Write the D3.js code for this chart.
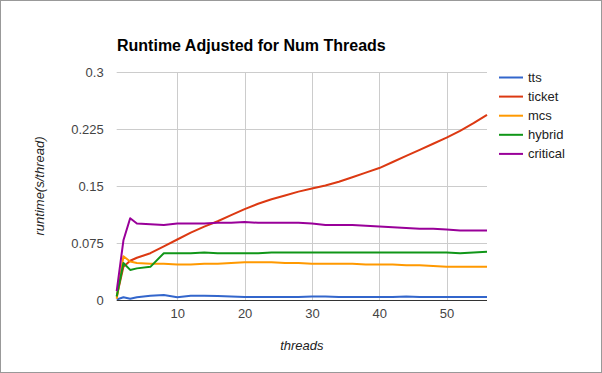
<!DOCTYPE html>
<html>
<head>
<meta charset="utf-8">
<script src="https://cdn.jsdelivr.net/npm/d3@7"></script>
<style>
  body { margin: 0; background: #fff; }
  svg { display: block; font-family: Arial, "Liberation Sans", sans-serif; }
</style>
</head>
<body>
<div id="chart"></div>
<script>
// thread counts sampled
const threads = [1, 2, 3, 4, 6, 8, 10, 12, 14, 16, 18, 20, 22, 24, 26, 28, 30,
    32, 34, 36, 38, 40, 42, 44, 46, 48, 50, 52, 54, 56];

const tts = [0.001, 0.004, 0.002, 0.004, 0.006, 0.007, 0.004, 0.006, 0.006, 0.0055,
    0.005, 0.0045, 0.0045, 0.0045, 0.0045, 0.0045, 0.005, 0.005, 0.0045, 0.0045,
    0.0045, 0.0045, 0.0045, 0.005, 0.0045, 0.0045, 0.0045, 0.0045, 0.0045, 0.0045];
const ticket = [0.005, 0.044, 0.052, 0.056, 0.062, 0.071, 0.080, 0.089, 0.097, 0.104,
    0.112, 0.120, 0.127, 0.133, 0.138, 0.143, 0.147, 0.151, 0.156, 0.162,
    0.168, 0.174, 0.182, 0.190, 0.198, 0.206, 0.214, 0.223, 0.233, 0.244];
const mcs = [0.002, 0.058, 0.051, 0.049, 0.048, 0.048, 0.047, 0.047, 0.048, 0.048,
    0.049, 0.050, 0.050, 0.050, 0.049, 0.049, 0.048, 0.048, 0.048, 0.048,
    0.047, 0.047, 0.047, 0.046, 0.046, 0.045, 0.044, 0.044, 0.044, 0.044];
const hybrid = [0.005, 0.049, 0.040, 0.042, 0.044, 0.062, 0.062, 0.062, 0.063, 0.062,
    0.062, 0.062, 0.062, 0.063, 0.063, 0.063, 0.063, 0.063, 0.063, 0.063,
    0.063, 0.063, 0.063, 0.063, 0.063, 0.063, 0.063, 0.062, 0.063, 0.064];
const critical = [0.012, 0.079, 0.108, 0.101, 0.100, 0.099, 0.101, 0.101, 0.101, 0.102,
    0.102, 0.103, 0.102, 0.102, 0.102, 0.102, 0.101, 0.099, 0.099, 0.099,
    0.098, 0.097, 0.096, 0.095, 0.094, 0.094, 0.093, 0.092, 0.092, 0.092];

const seriesNames = ['tts', 'ticket', 'mcs', 'hybrid', 'critical'];
const seriesValues = [tts, ticket, mcs, hybrid, critical];
const colors = ['#3366cc', '#dc3912', '#ff9900', '#109618', '#990099'];

const xTicks = [10, 20, 30, 40, 50];
const yTicks = [0, 0.075, 0.15, 0.225, 0.3];

const W = 602, H = 373;
const plot = {left: 116.7, right: 487, top: 72.3, bottom: 300.3};

const svg = d3.select('#chart')
    .append('svg')
    .attr('width', W)
    .attr('height', H);

svg.append('rect')
    .attr('x', 0.5).attr('y', 0.5)
    .attr('width', W - 1).attr('height', H - 1)
    .attr('fill', '#fff')
    .attr('stroke', '#999');

const x = d3.scaleLinear().domain([1, 56]).range([plot.left, plot.right]);
const y = d3.scaleLinear().domain([0, 0.3]).range([plot.bottom, plot.top]);

// gridlines
svg.append('g')
    .selectAll('line.vgrid')
    .data(xTicks)
    .join('line')
    .attr('x1', d => Math.round(x(d)) + 0.5)
    .attr('x2', d => Math.round(x(d)) + 0.5)
    .attr('y1', plot.top)
    .attr('y2', plot.bottom)
    .attr('stroke', '#ccc');

svg.append('g')
    .selectAll('line.hgrid')
    .data(yTicks.slice(1))
    .join('line')
    .attr('x1', plot.left)
    .attr('x2', plot.right)
    .attr('y1', d => Math.round(y(d)) + 0.5)
    .attr('y2', d => Math.round(y(d)) + 0.5)
    .attr('stroke', '#ccc');

// axes labels via d3 axes, then strip domain/ticks
const yAxis = svg.append('g')
    .attr('transform', `translate(${plot.left},0)`)
    .call(d3.axisLeft(y).tickValues(yTicks).tickFormat(d => d3.format('')(d)).tickSize(0).tickPadding(13));
yAxis.select('.domain').remove();
yAxis.selectAll('text')
    .attr('font-size', 13)
    .attr('font-family', 'Arial, "Liberation Sans", sans-serif')
    .attr('fill', '#444');

const xAxis = svg.append('g')
    .attr('transform', `translate(0,${plot.bottom})`)
    .call(d3.axisBottom(x).tickValues(xTicks).tickSize(0).tickPadding(8));
xAxis.select('.domain').remove();
xAxis.selectAll('text')
    .attr('font-size', 13)
    .attr('font-family', 'Arial, "Liberation Sans", sans-serif')
    .attr('fill', '#444');

// lines
const line = d3.line()
    .x((d, i) => x(threads[i]))
    .y(d => y(d));

svg.append('g')
    .selectAll('path')
    .data(seriesValues)
    .join('path')
    .attr('d', d => line(d))
    .attr('fill', 'none')
    .attr('stroke', (d, i) => colors[i])
    .attr('stroke-width', 2)
    .attr('stroke-linejoin', 'round');

// baseline
svg.append('line')
    .attr('x1', plot.left)
    .attr('x2', plot.right)
    .attr('y1', Math.round(y(0)) + 0.5)
    .attr('y2', Math.round(y(0)) + 0.5)
    .attr('stroke', '#333');

// title
svg.append('text')
    .attr('x', 117)
    .attr('y', 51)
    .attr('font-size', 16)
    .attr('font-weight', 'bold')
    .attr('fill', '#000')
    .text('Runtime Adjusted for Num Threads');

// axis titles
svg.append('text')
    .attr('x', (plot.left + plot.right) / 2)
    .attr('y', 350)
    .attr('text-anchor', 'middle')
    .attr('font-size', 13)
    .attr('font-style', 'italic')
    .attr('fill', '#222')
    .text('threads');

svg.append('text')
    .attr('transform', 'translate(44,186) rotate(-90)')
    .attr('text-anchor', 'middle')
    .attr('font-size', 13)
    .attr('font-style', 'italic')
    .attr('fill', '#222')
    .text('runtime(s/thread)');

// legend
const legend = svg.append('g')
    .selectAll('g')
    .data(seriesNames)
    .join('g')
    .attr('transform', (d, i) => `translate(499,${77.5 + i * 19.1})`);

legend.append('line')
    .attr('x1', 0).attr('x2', 24)
    .attr('y1', 0).attr('y2', 0)
    .attr('stroke', (d, i) => colors[i])
    .attr('stroke-width', 2);

legend.append('text')
    .attr('x', 29)
    .attr('y', 4.5)
    .attr('font-size', 13)
    .attr('fill', '#222')
    .text(d => d);
</script>
</body>
</html>
